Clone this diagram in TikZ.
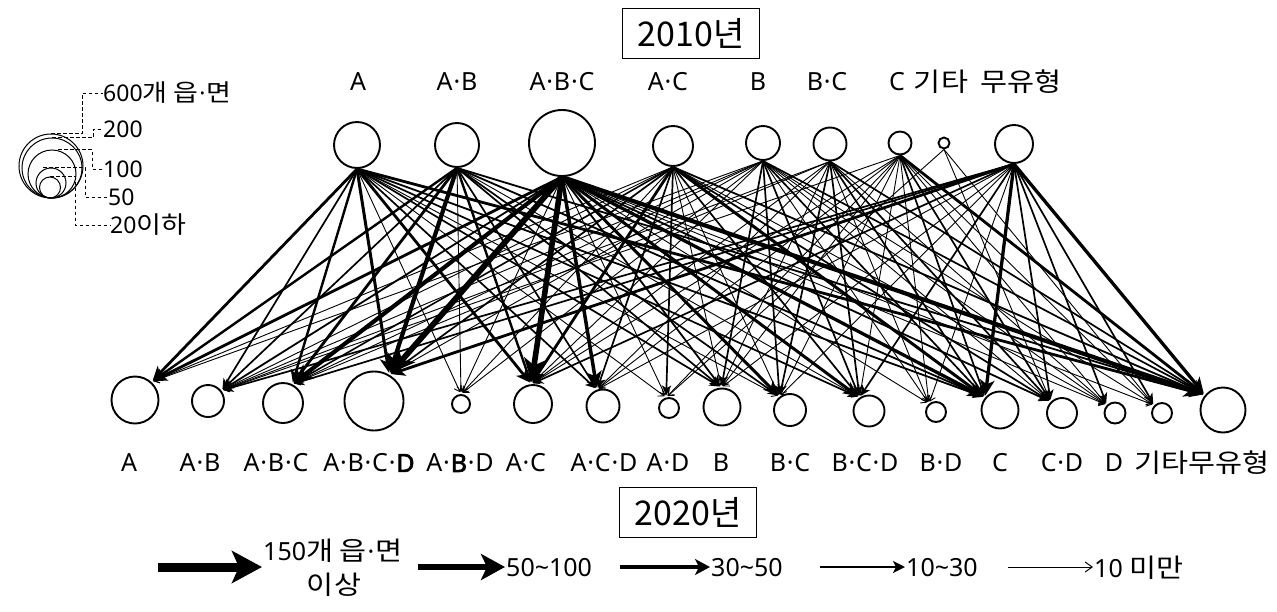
\documentclass[tikz,border=0pt]{standalone}
\usepackage{fontspec}
\setmainfont{Noto Sans}[Numbers=Lining]
\newfontfamily\kr{Noto Sans CJK KR}[Scale=1.04,FakeStretch=1.13]
\newfontfamily\krn{Noto Sans CJK KR}
\newfontfamily\bd{Noto Sans}[FakeBold=2.5,Numbers=Lining]
\usetikzlibrary{arrows.meta,calc}
\newcommand\md{\kern0.8pt·\kern0.8pt}
\newcommand\myedge[3]{\ifdim#3pt<1.2pt\relax\draw[thinedge](#1.south)--(#2);\else\draw[edge=#3](#1.south)--(#2);\fi}
\begin{document}
\begin{tikzpicture}[x=1pt,y=-1pt,
  ring/.style={circle,draw,line width=1.9pt,inner sep=0pt,minimum size=#1},
  kring/.style={circle,draw,line width=1pt,inner sep=0pt,minimum size=#1},
  lab/.style={font=\fontsize{25}{28}\selectfont,inner sep=0pt},
  klab/.style={font=\fontsize{23}{26}\selectfont,inner sep=0pt,anchor=west},
  leglab/.style={font=\fontsize{25}{30}\selectfont,inner sep=1pt,anchor=west},
  yearbox/.style={draw,line width=1pt,font=\krn\fontsize{34}{38}\selectfont,minimum width=137pt,minimum height=50pt,inner sep=0pt},
  leader/.style={dash pattern=on 3.5pt off 2.5pt,line width=0.9pt},
  edge/.style={line width=#1pt,shorten >=2pt,-{Stealth[length=4pt 3.5,width=4pt 3.2,inset=1pt 1]}},
  thinedge/.style={line width=0.9pt,shorten >=2pt,-{Straight Barb[length=5pt,width=8pt]}},
]
\useasboundingbox (0,0) rectangle (1277,611);

% year boxes
\node[yearbox] (y2010) at (691,33) {2010년};
\node[yearbox] (y2020) at (688,512) {2020년};

% top row
\node[ring=46pt] (tA)   at (357,145) {};
\node[ring=44pt] (tAB)  at (457,145) {};
\node[ring=66pt] (tABC) at (562,143) {};
\node[ring=40pt] (tAC)  at (673,146) {};
\node[ring=34pt] (tB)   at (763,143) {};
\node[ring=33pt] (tBC)  at (830,144) {};
\node[ring=23pt] (tC)   at (900,143) {};
\node[ring=11pt] (tX)   at (944,143) {};
\node[ring=38pt] (tN)   at (1014,144) {};

\node[lab] (ltA)   at (358,82) {A};
\node[lab] (ltAB)  at (457,82) {A\md B};
\node[lab] (ltABC) at (562,82) {A\md B\md C};
\node[lab] (ltAC)  at (668,82) {A\md C};
\node[lab] (ltB)   at (758,82) {B};
\node[lab] (ltBC)  at (827,82) {B\md C};
\node[lab] (ltC)   at (897,82) {C};
\node[lab] (ltX)   at (941,82) {\kr 기타};
\node[lab] (ltN)   at (1021,82) {\kr 무유형};

% bottom row
\node[ring=47pt] (bA)    at (135,400) {};
\node[ring=32pt] (bAB)   at (208,401) {};
\node[ring=40pt] (bABC)  at (283,403) {};
\node[ring=59pt] (bABCD) at (374,401) {};
\node[ring=18pt] (bABD)  at (461,404) {};
\node[ring=38pt] (bAC)   at (533,404) {};
\node[ring=33pt] (bACD)  at (603,406) {};
\node[ring=20pt] (bAD)   at (669,408) {};
\node[ring=37pt] (bB)    at (722,407) {};
\node[ring=32pt] (bBC)   at (790,410) {};
\node[ring=31pt] (bBCD)  at (869,411) {};
\node[ring=20pt] (bBD)   at (936,412) {};
\node[ring=37pt] (bC)    at (1000,410) {};
\node[ring=30pt] (bCD)   at (1062,413) {};
\node[ring=21pt] (bD)    at (1115,413) {};
\node[ring=20pt] (bX)    at (1162,413) {};
\node[ring=45pt] (bN)    at (1223,410) {};

\node[lab] (lbA)    at (129,463) {A};
\node[lab] (lbAB)   at (200,463) {A\md B};
\node[lab] (lbABC)  at (276,463) {A\md B\md C};
\node[lab] (lbABCD) at (369,463) {A\md B\md C\md{\bd D}};
\node[lab] (lbABD)  at (460,463) {A\md{\bd B}\md D};
\node[lab] (lbAC)   at (526,463) {A\md C};
\node[lab] (lbACD)  at (604,463) {A\md C\md D};
\node[lab] (lbAD)   at (668,463) {A\md D};
\node[lab] (lbB)    at (721,463) {B};
\node[lab] (lbBC)   at (790,463) {B\md C};
\node[lab] (lbBCD)  at (865,463) {B\md C\md D};
\node[lab] (lbBD)   at (941,463) {B\md D};
\node[lab] (lbC)    at (1000,463) {C};
\node[lab] (lbCD)   at (1062,463) {C\md D};
\node[lab] (lbD)    at (1114,463) {D};
\node[lab] (lbXN)   at (1202,463) {\kr 기타무유형};

% connectors, grouped by target
\foreach \s/\w in {tA/2.8,tAB/2.4,tABC/2.8,tAC/1.0,tB/0.9}{\myedge{\s}{bA.48}{\w}}
\foreach \s/\w in {tA/1.7,tAB/1.7,tABC/1.8,tAC/0.9,tB/0.9,tBC/0.9,tC/0.9,tN/1.7}{\myedge{\s}{bAB.38}{\w}}
\foreach \s/\w in {tA/2.4,tAB/2.8,tABC/4.2,tAC/1.6,tB/0.9,tBC/0.9,tN/1.7}{\myedge{\s}{bABC.64}{\w}}
\foreach \s/\w in {tA/3.0,tAB/4.2,tABC/5.8,tAC/1.7,tB/0.9,tN/2.8}{\myedge{\s}{bABCD.60}{\w}}
\foreach \s/\w in {tA/0.9,tAB/0.9,tABC/0.9,tAC/0.9,tB/0.9}{\myedge{\s}{bABD.90}{\w}}
\foreach \s/\w in {tA/2.8,tAB/2.4,tABC/5.6,tAC/2.8,tB/0.9,tBC/0.9,tC/0.9,tN/1.7}{\myedge{\s}{bAC.95}{\w}}
\foreach \s/\w in {tA/1.7,tAB/1.7,tABC/3.5,tAC/1.7,tBC/0.9,tC/0.9,tN/0.9}{\myedge{\s}{bACD.110}{\w}}
\foreach \s/\w in {tA/0.9,tABC/0.9,tAC/1.7,tC/0.9,tX/0.9}{\myedge{\s}{bAD.105}{\w}}
\foreach \s/\w in {tA/1.7,tAB/1.7,tABC/1.8,tAC/0.9,tB/1.7,tBC/0.9,tC/0.9,tN/0.9}{\myedge{\s}{bB.92}{\w}}
\foreach \s/\w in {tA/0.9,tAB/1.7,tABC/3.0,tAC/0.9,tB/1.7,tBC/1.7,tC/0.9,tN/0.9}{\myedge{\s}{bBC.128}{\w}}
\foreach \s/\w in {tA/1.7,tAB/0.9,tABC/3.0,tAC/1.7,tB/1.7,tBC/1.7,tC/0.9,tN/1.7}{\myedge{\s}{bBCD.125}{\w}}
\foreach \s/\w in {tABC/0.9,tB/0.9,tBC/0.9,tC/0.9,tN/0.9}{\myedge{\s}{bBD.130}{\w}}
\foreach \s/\w in {tA/1.8,tAB/1.8,tABC/3.3,tAC/3.0,tB/1.7,tBC/1.7,tC/1.7,tN/3.3}{\myedge{\s}{bC.140}{\w}}
\foreach \s/\w in {tABC/1.8,tAC/1.7,tB/0.9,tBC/1.7,tC/1.7,tN/1.7,tX/0.9}{\myedge{\s}{bCD.135}{\w}}
\foreach \s/\w in {tABC/0.9,tAC/0.9,tB/0.9,tBC/0.9,tC/0.9,tN/1.7}{\myedge{\s}{bD.135}{\w}}
\foreach \s/\w in {tABC/0.9,tB/0.9,tC/0.9,tN/1.7,tX/0.9}{\myedge{\s}{bX.135}{\w}}
\foreach \s/\w in {tA/2.8,tAB/1.8,tABC/4.2,tAC/1.8,tB/1.7,tBC/1.7,tC/2.8,tN/3.3}{\myedge{\s}{bN.140}{\w}}

% size key (top left)
\node[kring=64pt] (k600) at (51,166) {};
\node[kring=60pt] (k200) at (52,168) {};
\node[kring=48pt] (k100) at (52,174) {};
\node[kring=30pt] (k50)  at (51,183) {};
\node[kring=21pt] (k20)  at (50,187.5) {};
\node[klab] (l600) at (103,93)  {600{\kr 개 읍}\md{\kr 면}};
\node[klab] (l200) at (103,129) {200};
\node[klab] (l100) at (103,169) {100};
\node[klab] (l50)  at (108,197) {50};
\node[klab] (l20)  at (110,225) {20{\kr 이하}};
\draw[leader] (k600.north) -- ++(31,0) |- (l600.west);
\draw[leader] (k200.north) -- ++(41,0) |- (l200.west);
\draw[leader] ($(k100.north)+(6,0)$) -- ++(34,0) |- (l100.west);
\draw[leader] ($(k50.north)+(-8,0)$) -- ++(42,0) |- (l50.west);
\draw[leader] (k20.north) -- ++(25,0) |- (l20.west);

% flow key (bottom)
\node[leglab] (f150) at (262,551) {150{\kr 개 읍}\md{\kr 면}};
\node[leglab,anchor=center] (f150b) at (334,585) {\kr 이상};
\node[leglab] (f50)  at (505,568) {50\textasciitilde100};
\node[leglab] (f30)  at (710,568) {30\textasciitilde50};
\node[leglab] (f10)  at (905,568) {10\textasciitilde30};
\node[leglab] (f0)   at (1093,568) {10 {\kr 미만}};
\coordinate (s150) at (158,567);
\coordinate (s50)  at (418,567);
\coordinate (s30)  at (620,567);
\coordinate (s10)  at (820,567);
\coordinate (s0)   at (1008,567);
\draw[line width=9pt,-{Stealth[length=30pt,width=32pt,inset=7pt]}] (s150) -- (s150 -| f150.west);
\draw[line width=6.5pt,-{Stealth[length=24pt,width=26pt,inset=6pt]}] (s50) -- (s50 -| f50.west);
\draw[line width=3.5pt,-{Stealth[length=15pt,width=16pt,inset=4pt]}] (s30) -- (s30 -| f30.west);
\draw[line width=2.5pt,-{Stealth[length=12pt,width=12pt,inset=3pt]}] (s10) -- (s10 -| f10.west);
\draw[line width=1pt,-{Straight Barb[length=7pt,width=10pt]}] (s0) -- (s0 -| f0.west);
\end{tikzpicture}
\end{document}
